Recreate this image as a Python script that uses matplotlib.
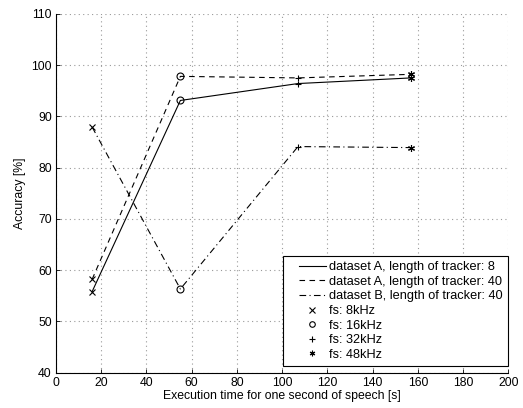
import matplotlib
matplotlib.use("Agg")
import matplotlib.pyplot as plt
from matplotlib.lines import Line2D
from matplotlib.legend_handler import HandlerLine2D

plt.rcParams['font.family'] = ['Liberation Sans', 'DejaVu Sans']

exec_time = [16, 55, 107, 157]
markers = ['x', 'o', '+', (6, 2, 0)]
fs_labels = ['fs: 8kHz', 'fs: 16kHz', 'fs: 32kHz', 'fs: 48kHz']

acc_A8 = [55.8, 93.1, 96.4, 97.5]
acc_A40 = [58.2, 97.8, 97.5, 98.2]
acc_B40 = [87.9, 56.3, 84.1, 83.9]

series = [
    ('dataset A, length of tracker: 8', acc_A8, '-'),
    ('dataset A, length of tracker: 40', acc_A40, (0, (5, 4))),
    ('dataset B, length of tracker: 40', acc_B40, (0, (6, 3, 1, 3))),
]

FS = 8.8
LFS = 9.2

fig = plt.figure(figsize=(5.23, 4.08), dpi=100)
ax = fig.add_axes([0.107, 0.087, 0.865, 0.879])

for label, vals, ls in series:
    ax.plot(exec_time, vals, linestyle=ls, color='black', linewidth=0.8)
    for xv, yv, m in zip(exec_time, vals, markers):
        ax.plot([xv], [yv], marker=m, color='black', markersize=5,
                markerfacecolor='none', markeredgewidth=0.8, linestyle='none')

ax.set_xlim(0, 200)
ax.set_ylim(40, 110)
ax.set_xticks(range(0, 201, 20))
ax.set_yticks(range(40, 111, 10))
ax.grid(True, linestyle=(0, (1, 3)), color='#999999', linewidth=0.8)
ax.spines['top'].set_visible(False)
ax.spines['right'].set_visible(False)
ax.spines['left'].set_linewidth(0.8)
ax.spines['bottom'].set_linewidth(0.8)
ax.tick_params(direction='in', labelsize=FS, length=3, width=0.6, pad=3)
ax.set_xlabel('Execution time for one second of speech [s]', fontsize=FS, labelpad=1)
ax.set_ylabel('Accuracy [%]', fontsize=FS, labelpad=4)

handles = [Line2D([], [], color='black', linestyle=ls, linewidth=0.8) for _, _, ls in series]
handles += [Line2D([], [], color='black', linestyle='none', marker=m, markersize=4,
                   markerfacecolor='none', markeredgewidth=0.8) for m in markers]
labels = [s[0] for s in series] + fs_labels
leg = ax.legend(handles, labels, loc='lower right', bbox_to_anchor=(1.0, 0.017),
                fontsize=LFS, frameon=True,
                fancybox=False, edgecolor='black', framealpha=1,
                borderaxespad=0.0, handlelength=2.9, labelspacing=0.2,
                handletextpad=0.25, borderpad=0.45,
                handler_map={Line2D: HandlerLine2D(xpad=0.8)})
leg.get_frame().set_linewidth(0.8)

fig.savefig('out.png', dpi=100)
